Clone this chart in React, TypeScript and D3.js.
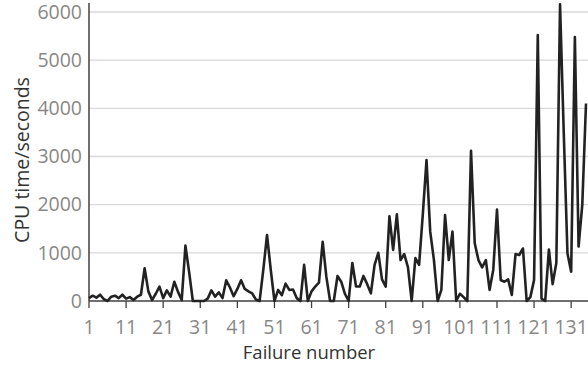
import * as d3 from "d3";
import React from "react";

// CPU time (seconds) per failure
const cpuTime: number[] = [
  60, 110, 70, 130, 40, 0, 90, 110, 60, 130,
  50, 80, 20, 90, 130, 680, 200, 20, 150, 300,
  60, 220, 90, 400, 190, 20, 1150, 600, 0, 0,
  0, 0, 50, 220, 90, 180, 60, 430, 280, 100,
  250, 430, 250, 200, 160, 30, 0, 650, 1370, 650,
  0, 230, 120, 360, 230, 240, 60, 0, 750, 0,
  200, 300, 380, 1230, 500, 0, 0, 520, 400, 150,
  0, 790, 300, 300, 520, 350, 160, 750, 1000, 450,
  300, 1760, 1060, 1800, 850, 975, 700, 0, 890, 750,
  1800, 2925, 1440, 850, 0, 230, 1785, 850, 1440, 0,
  150, 80, 0, 3120, 1200, 850, 700, 850, 230, 650,
  1900, 435, 400, 450, 125, 975, 955, 1090, 0, 80,
  435, 5520, 50, 0, 1070, 350, 790, 6160, 3500, 990,
  610, 5480, 1130, 2000, 4100,
];
const yTicks = [0, 1000, 2000, 3000, 4000, 5000, 6000];
const xTicks = [1, 11, 21, 31, 41, 51, 61, 71, 81, 91, 101, 111, 121, 131];

const W = 588;
const H = 365;
const left = 89;
const bottom = 301;
const font = "'Open Sans', sans-serif";

export default function App() {
  const failures = d3.range(1, cpuTime.length + 1);
  const x = d3.scaleLinear().domain([1, cpuTime.length]).range([left, 586]);
  const y = d3.scaleLinear().domain([0, 6000]).range([bottom, 12]);

  const line = d3
    .line<number>()
    .x((_, i) => x(failures[i]))
    .y((d) => y(d));

  return (
    <svg
      width={W}
      height={H}
      style={{ position: "absolute", left: 0, top: 0, background: "#fff" }}
    >
      {/* gridlines */}
      {yTicks.slice(1).map((t) => (
        <line key={t} x1={left} x2={W} y1={y(t)} y2={y(t)} stroke="#d9d9d9" strokeWidth={1.3} />
      ))}

      {/* y axis */}
      <line x1={left} x2={left} y1={3} y2={bottom} stroke="#404040" strokeWidth={1.5} />
      {yTicks.map((t) => (
        <text
          key={t}
          x={82}
          y={y(t)}
          dy="0.35em"
          textAnchor="end"
          fontFamily={font}
          fontSize={19.5}
          fill="#888"
        >
          {t}
        </text>
      ))}

      {/* x axis */}
      <line x1={left} x2={W} y1={bottom} y2={bottom} stroke="#404040" strokeWidth={1.5} />
      {xTicks.map((t) => (
        <g key={t}>
          <line x1={x(t)} x2={x(t)} y1={bottom} y2={bottom + 7} stroke="#404040" strokeWidth={1.3} />
          <text
            x={x(t)}
            y={334}
            textAnchor="middle"
            fontFamily={font}
            fontSize={19.5}
            fill="#888"
          >
            {t}
          </text>
        </g>
      ))}

      {/* series */}
      <path d={line(cpuTime) ?? ""} fill="none" stroke="#222" strokeWidth={2.6} strokeLinejoin="round" />

      {/* axis titles */}
      <text x={309} y={359} textAnchor="middle" fontFamily={font} fontSize={18.5} fill="#333">
        Failure number
      </text>
      <text
        transform={`translate(29,160) rotate(-90)`}
        textAnchor="middle"
        fontFamily={font}
        fontSize={19.5}
        fill="#333"
      >
        CPU time/seconds
      </text>
    </svg>
  );
}
